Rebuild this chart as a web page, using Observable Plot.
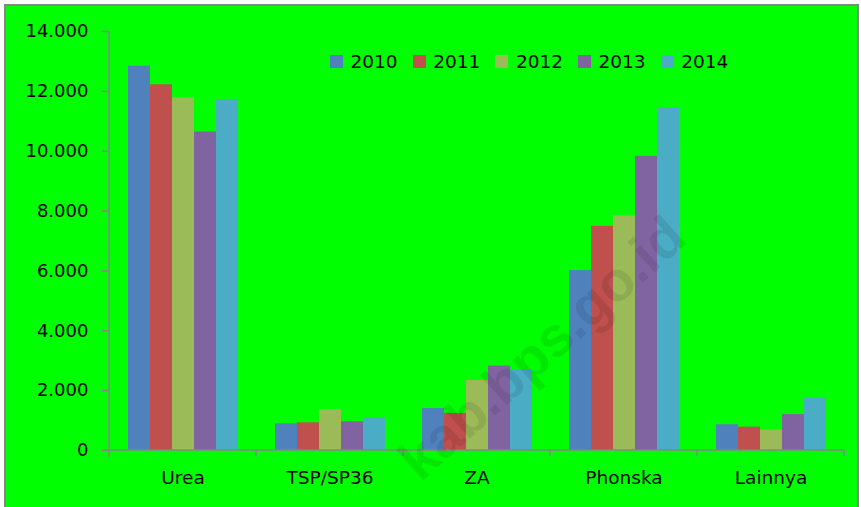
<!DOCTYPE html>
<html>
<head>
<meta charset="utf-8">
<script src="https://cdn.jsdelivr.net/npm/d3@7"></script>
<script src="https://cdn.jsdelivr.net/npm/@observablehq/plot@0.6"></script>
<style>
  html, body { margin: 0; padding: 0; background: #ffffff; }
  #wrap { position: relative; width: 861px; height: 507px; overflow: hidden; font-family: "DejaVu Sans", sans-serif; }
  #frame { position: absolute; left: 4px; top: 4px; width: 851px; height: 520px; border: 2px solid #868686; background: #00ff00; }
  #chart { position: absolute; left: 0; top: 0; }
  #legend { position: absolute; left: 330px; top: 51px; display: flex; align-items: center; font-size: 18.5px; color: #000; }
  .item { display: flex; align-items: center; width: 82.7px; }
  .sw { width: 13px; height: 13px; margin-right: 7.5px; }
  #wm { position: absolute; left: 542px; top: 348px; transform: translate(-50%, -50%) rotate(-42deg); font-family: "Liberation Sans", Arial, sans-serif; font-weight: bold; font-size: 56px; line-height: 1; color: rgba(0,0,0,0.09); white-space: nowrap; pointer-events: none; }
</style>
</head>
<body>
<div id="wrap">
  <div id="frame"></div>
  <div id="chart"></div>
  <div id="legend"></div>
  <div id="wm">kab.bps.go.id</div>
</div>
<script>
// ---- data ----
const categories = ["Urea", "TSP/SP36", "ZA", "Phonska", "Lainnya"];
const years = ["2010", "2011", "2012", "2013", "2014"];
const v2010 = [12840, 890, 1400, 6010, 860];
const v2011 = [12220, 925, 1240, 7490, 780];
const v2012 = [11780, 1360, 2340, 7840, 680];
const v2013 = [10640, 960, 2820, 9830, 1200];
const v2014 = [11720, 1090, 2700, 11450, 1740];
const yTicks = [0, 2000, 4000, 6000, 8000, 10000, 12000, 14000];
const colors = ["#4F81BD", "#C0504D", "#9BBB59", "#8064A2", "#4BACC6"];

const series = [v2010, v2011, v2012, v2013, v2014];
const rows = [];
categories.forEach((c, ci) => years.forEach((yr, yi) => rows.push({cat: c, year: yr, value: series[yi][ci]})));

const loc = d3.formatLocale({decimal: ",", thousands: ".", grouping: [3], currency: ["", ""]});
const fmt = loc.format(",");

const W = 861, H = 507, mL = 108, mR = 15, mT = 31, mB = 57;
const pIn = 0.231, pOut = pIn / 2;
const stepPx = (W - mL - mR) / categories.length;
const outerPx = stepPx * pIn / 2;

const plot = Plot.plot({
  width: W, height: H,
  marginLeft: mL, marginRight: mR, marginTop: mT, marginBottom: mB,
  style: {background: "transparent", fontFamily: "DejaVu Sans, sans-serif", color: "#000", overflow: "visible"},
  fx: {domain: categories, paddingInner: pIn, paddingOuter: pOut, label: null},
  x: {domain: years, padding: 0, axis: null},
  y: {domain: [0, 14000], label: null},
  color: {domain: years, range: colors},
  marks: [
    Plot.barY(rows, {fx: "cat", x: "year", y: "value", fill: "year"}),
    Plot.axisY({ticks: yTicks, tickFormat: fmt, tickSize: 7, tickPadding: 14, fontSize: 18, stroke: "#868686", fill: "#000", strokeWidth: 1.5, dx: -outerPx, label: null}),
    Plot.axisFx({anchor: "bottom", tickSize: 0, tickPadding: 20, fontSize: 18.5, fill: "#000", label: null})
  ]
});
document.getElementById("chart").appendChild(plot);

// axis lines and category boundary ticks, from the scales
const fx = plot.scale("fx"), ys = plot.scale("y");
const svg = d3.select(plot);
const g = svg.append("g").attr("stroke", "#868686").attr("stroke-width", 1.5);
const y0 = ys.apply(0), yTop = ys.apply(14000);
const gap = (fx.step - fx.bandwidth) / 2;
const bounds = categories.map(c => fx.apply(c) - gap);
bounds.push(fx.apply(categories[categories.length - 1]) + fx.bandwidth + gap);
g.append("line").attr("x1", bounds[0]).attr("x2", bounds[0]).attr("y1", yTop).attr("y2", y0 + 7);
g.append("line").attr("x1", bounds[0] - 7).attr("x2", bounds[bounds.length - 1]).attr("y1", y0).attr("y2", y0);
bounds.slice(1).forEach(b => g.append("line").attr("x1", b).attr("x2", b).attr("y1", y0).attr("y2", y0 + 6));

// legend
const lg = document.getElementById("legend");
years.forEach((yr, i) => {
  const it = document.createElement("div"); it.className = "item";
  const sw = document.createElement("div"); sw.className = "sw"; sw.style.background = colors[i];
  const t = document.createElement("span"); t.textContent = yr;
  it.appendChild(sw); it.appendChild(t); lg.appendChild(it);
});
</script>
</body>
</html>
